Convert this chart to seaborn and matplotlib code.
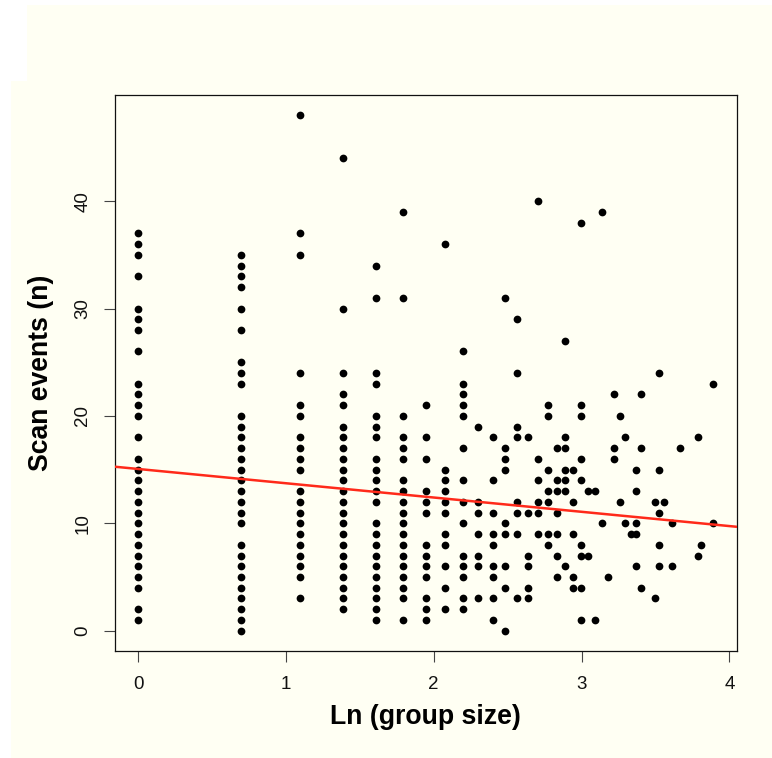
import numpy as np
import pandas as pd
import matplotlib
matplotlib.use("Agg")
import matplotlib.pyplot as plt
from matplotlib.patches import Rectangle
import seaborn as sns

# group sizes (x axis is ln of group size) and scan-event counts observed for each
group_sizes = [1, 2, 3, 4, 5, 6, 7, 8, 9, 10, 11, 12, 13, 14, 15, 16, 17, 18, 19, 20,
               21, 22, 23, 24, 25, 26, 27, 28, 29, 30, 33, 34, 35, 37, 39, 44, 45, 49]
g1 = [37, 36, 35, 33, 30, 29, 28, 26, 23, 22, 21, 20, 18, 16, 15, 14, 13, 12, 11, 10, 9, 8, 7, 6, 5, 4, 2, 1]
g2 = [35, 34, 33, 32, 30, 28, 25, 24, 23, 20, 19, 18, 17, 16, 15, 14, 13, 12, 11, 10, 8, 7, 6, 5, 4, 3, 2, 1, 0]
g3 = [48, 37, 35, 24, 21, 20, 18, 17, 16, 15, 13, 12, 11, 10, 9, 8, 7, 6, 5, 3]
g4 = [44, 30, 24, 22, 21, 19, 18, 17, 16, 15, 14, 13, 12, 11, 10, 9, 8, 7, 6, 5, 4, 3, 2]
g5 = [34, 31, 24, 23, 20, 19, 18, 16, 15, 14, 13, 12, 10, 9, 8, 7, 6, 5, 4, 3, 2, 1]
g6 = [39, 31, 20, 18, 17, 16, 14, 13, 12, 11, 10, 9, 8, 7, 6, 5, 4, 3, 1]
g7 = [21, 18, 16, 13, 12, 11, 8, 7, 6, 5, 3, 2, 1]
g8 = [36, 15, 14, 13, 12, 11, 9, 8, 6, 4, 2]
g9 = [26, 23, 22, 21, 20, 17, 14, 12, 10, 7, 6, 5, 3, 2]
g10 = [19, 12, 11, 9, 7, 6, 3]
g11 = [18, 14, 11, 9, 8, 6, 5, 3, 1]
g12 = [31, 17, 16, 15, 10, 9, 6, 4, 0]
g13 = [29, 24, 19, 18, 12, 11, 9, 3]
g14 = [18, 11, 7, 6, 4, 3]
g15 = [40, 16, 14, 12, 11, 9]
g16 = [21, 20, 15, 13, 12, 9, 8]
g17 = [17, 14, 13, 11, 9, 7, 5]
g18 = [27, 18, 17, 15, 14, 13, 6]
g19 = [15, 12, 9, 5, 4]
g20 = [38, 21, 20, 16, 14, 8, 7, 4, 1]
g21 = [13, 7]
g22 = [13, 1]
g23 = [39, 10]
g24 = [5]
g25 = [22, 17, 16]
g26 = [20, 12]
g27 = [18, 10]
g28 = [9]
g29 = [15, 13, 10, 9, 6]
g30 = [22, 17, 4]
g33 = [12, 3]
g34 = [24, 15, 11, 8, 6]
g35 = [12]
g37 = [10, 6]
g39 = [17]
g44 = [18, 7]
g45 = [8]
g49 = [23, 10]
scan_events = [g1, g2, g3, g4, g5, g6, g7, g8, g9, g10, g11, g12, g13, g14, g15, g16,
               g17, g18, g19, g20, g21, g22, g23, g24, g25, g26, g27, g28, g29, g30,
               g33, g34, g35, g37, g39, g44, g45, g49]

# fitted regression line as drawn in the reference (read from the picture;
# overlapping observations make it differ from a fit on the visible points)
fit_intercept = 15.06
fit_slope = -1.33

x_ticks = [0, 1, 2, 3, 4]
y_ticks = [0, 10, 20, 30, 40]
x_label = "Ln (group size)"
y_label = "Scan events (n)"

rows = []
for n, vals in zip(group_sizes, scan_events):
    for v in vals:
        rows.append({"lngs": np.log(n), "scan": v})
df = pd.DataFrame(rows)

sns.set_style("ticks")
plt.rcParams["font.family"] = ["Liberation Sans", "DejaVu Sans"]

bg = "#fffff3"
W, H = 772, 758
fig = plt.figure(figsize=(W / 100, H / 100), dpi=100, facecolor=bg)
ax = fig.add_axes([115 / W, 1 - 651.3 / H, (736.5 - 115) / W, (651.3 - 94.6) / H])
ax.set_facecolor(bg)

# white margins of the original image
for (x0, y0, w, h) in [(0, 0, 11, H), (0, 0, 27, 81), (0, 0, W, 5)]:
    fig.add_artist(Rectangle((x0 / W, 1 - (y0 + h) / H), w / W, h / H,
                             transform=fig.transFigure, facecolor="white",
                             edgecolor="none", zorder=-5))

xmin, xmax = df["lngs"].min(), df["lngs"].max()
ymin, ymax = df["scan"].min(), df["scan"].max()
xr, yr = xmax - xmin, ymax - ymin

sns.scatterplot(data=df, x="lngs", y="scan", ax=ax, color="black", s=31,
                linewidth=0, zorder=3)
ax.axline((0, fit_intercept), slope=fit_slope, color="#ff2a1a", lw=1.8, zorder=4)
ax.set_xlim(xmin - 0.04 * xr, xmax + 0.04 * xr)
ax.set_ylim(ymin - 0.04 * yr, ymax + 0.04 * yr)

ax.set_xticks(x_ticks)
ax.set_yticks(y_ticks)
ax.set_xticklabels([str(t) for t in x_ticks])
ax.set_yticklabels([str(t) for t in y_ticks], rotation=90, va="center")
ax.tick_params(axis="both", direction="out", length=8, width=0.8, color="#444444",
               labelsize=13.5, labelcolor="#111111")
ax.tick_params(axis="x", pad=9.5)
ax.tick_params(axis="y", pad=9)
for sp in ax.spines.values():
    sp.set_visible(True)
    sp.set_color("#111111")
    sp.set_linewidth(0.9)

ax.set_xlabel(x_label, fontsize=19.2, fontweight="bold", labelpad=8, color="black")
ax.set_ylabel(y_label, fontsize=19.2, fontweight="bold", labelpad=15, color="black")

fig.savefig("out.png", dpi=100, facecolor=bg)
